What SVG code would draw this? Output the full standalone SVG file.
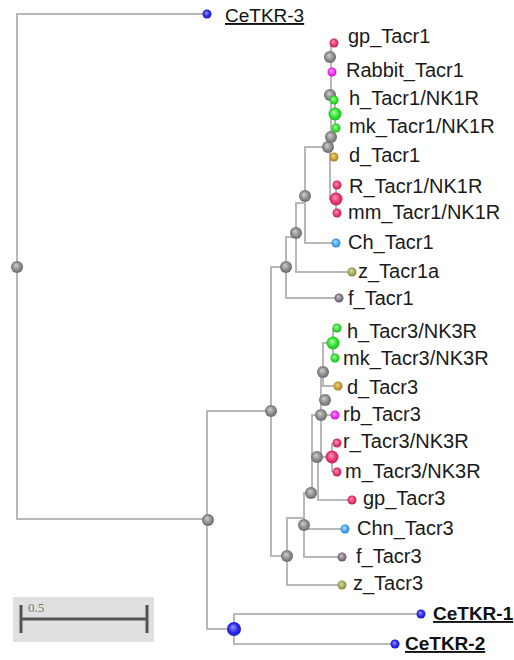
<svg xmlns="http://www.w3.org/2000/svg" width="514" height="660" viewBox="0 0 514 660">
<defs>
<radialGradient id="gGray" cx="0.5" cy="0.5" r="0.55" fx="0.4" fy="0.35"><stop offset="0" stop-color="#d0d0d0"/><stop offset="0.6" stop-color="#8c8c8c"/><stop offset="1" stop-color="#606060"/></radialGradient>
<radialGradient id="gBlue" cx="0.5" cy="0.5" r="0.55" fx="0.4" fy="0.35"><stop offset="0" stop-color="#9a9aff"/><stop offset="0.6" stop-color="#2a2af0"/><stop offset="1" stop-color="#1818b0"/></radialGradient>
<radialGradient id="gPink" cx="0.5" cy="0.5" r="0.55" fx="0.4" fy="0.35"><stop offset="0" stop-color="#ff9ac0"/><stop offset="0.6" stop-color="#e8386e"/><stop offset="1" stop-color="#b81e50"/></radialGradient>
<radialGradient id="gMag" cx="0.5" cy="0.5" r="0.55" fx="0.4" fy="0.35"><stop offset="0" stop-color="#ffa0ff"/><stop offset="0.6" stop-color="#f030f0"/><stop offset="1" stop-color="#c010c0"/></radialGradient>
<radialGradient id="gGreen" cx="0.5" cy="0.5" r="0.55" fx="0.4" fy="0.35"><stop offset="0" stop-color="#b0ffb0"/><stop offset="0.6" stop-color="#30e030"/><stop offset="1" stop-color="#18b018"/></radialGradient>
<radialGradient id="gGold" cx="0.5" cy="0.5" r="0.55" fx="0.4" fy="0.35"><stop offset="0" stop-color="#f0dc90"/><stop offset="0.6" stop-color="#c8a030"/><stop offset="1" stop-color="#9a7818"/></radialGradient>
<radialGradient id="gLBlue" cx="0.5" cy="0.5" r="0.55" fx="0.4" fy="0.35"><stop offset="0" stop-color="#b8e0ff"/><stop offset="0.6" stop-color="#4aa4f4"/><stop offset="1" stop-color="#2a7ccc"/></radialGradient>
<radialGradient id="gOlive" cx="0.5" cy="0.5" r="0.55" fx="0.4" fy="0.35"><stop offset="0" stop-color="#e0e0a8"/><stop offset="0.6" stop-color="#a8a858"/><stop offset="1" stop-color="#7c7c38"/></radialGradient>
<radialGradient id="gPurp" cx="0.5" cy="0.5" r="0.55" fx="0.4" fy="0.35"><stop offset="0" stop-color="#d4c8d4"/><stop offset="0.6" stop-color="#8a7a8a"/><stop offset="1" stop-color="#5e505e"/></radialGradient>
</defs>
<style>
.ln{fill:none;stroke:#b8b8b8;stroke-width:2}
.lbl{font-family:"Liberation Sans",Arial,sans-serif;font-size:20px;fill:#1a1a1a}
.ce{font-family:"Liberation Sans",Arial,sans-serif;font-size:19px;fill:#111;text-decoration:underline}
.ceb{font-weight:bold}
.gray{fill:url(#gGray)}
.blue{fill:url(#gBlue)}
.pink{fill:url(#gPink)}
.mag{fill:url(#gMag)}
.green{fill:url(#gGreen)}
.gold{fill:url(#gGold)}
.lblue{fill:url(#gLBlue)}
.olive{fill:url(#gOlive)}
.purp{fill:url(#gPurp)}
</style>
<rect width="514" height="660" fill="#ffffff"/>
<g id="connectors">
<path class="ln" d="M207 14H17V519H207"/>
<path class="ln" d="M271 411H207V629H234"/>
<path class="ln" d="M421 614H234V644H395"/>
<path class="ln" d="M286 267H271V556H287"/>
<path class="ln" d="M296 237H286V298H339"/>
<path class="ln" d="M305 203H296V272H352"/>
<path class="ln" d="M328 147H305V243H336"/>
<path class="ln" d="M334 43H331V147"/>
<path class="ln" d="M331 72H332"/>
<path class="ln" d="M335 100V128"/>
<path class="ln" d="M330 147V199H336"/>
<path class="ln" d="M330 157H334"/>
<path class="ln" d="M336 185V213"/>
<path class="ln" d="M304 518H287V585H342"/>
<path class="ln" d="M312 493H304V557H342"/>
<path class="ln" d="M304 529H345"/>
<path class="ln" d="M312 493V415H321"/>
<path class="ln" d="M318 457V500H352"/>
<path class="ln" d="M321 372V457H332"/>
<path class="ln" d="M333 343H323V386H338"/>
<path class="ln" d="M321 415H335"/>
<path class="ln" d="M333 328V358"/>
<path class="ln" d="M332 443V472"/>
</g>
<g id="scalebar">
<rect x="13" y="597" width="141" height="45" fill="#e0e0e0"/>
<path d="M21 619H147M21 605V633M147 605V633" stroke="#555" stroke-width="3" fill="none"/>
<text x="28" y="612" font-family="Liberation Serif,serif" font-size="13" fill="#777">0.5</text>
</g>
<g id="inner">
<circle id="n_root" class="gray" cx="17" cy="267" r="6"/>
<circle id="n_208" class="gray" cx="208" cy="520" r="6"/>
<circle id="n_271" class="gray" cx="271" cy="411" r="6"/>
<circle id="n_286" class="gray" cx="286" cy="267" r="6"/>
<circle id="n_296" class="gray" cx="296" cy="233" r="6"/>
<circle id="n_305" class="gray" cx="305" cy="196" r="6"/>
<circle id="n_328" class="gray" cx="328" cy="147" r="6"/>
<circle id="n_331" class="gray" cx="331" cy="137" r="6"/>
<circle id="n_330b" class="gray" cx="330" cy="95" r="6"/>
<circle id="n_330a" class="gray" cx="330" cy="57" r="6"/>
<circle id="n_g1" class="green" cx="335" cy="114" r="6.5"/>
<circle id="n_p1" class="pink" cx="336" cy="199" r="6.5"/>
<circle id="n_287" class="gray" cx="287" cy="556" r="6"/>
<circle id="n_304" class="gray" cx="304" cy="525" r="6"/>
<circle id="n_311" class="gray" cx="311" cy="493" r="6"/>
<circle id="n_317" class="gray" cx="317" cy="457" r="6"/>
<circle id="n_321" class="gray" cx="321" cy="415" r="6"/>
<circle id="n_325" class="gray" cx="325" cy="400" r="6"/>
<circle id="n_323" class="gray" cx="323" cy="372" r="6"/>
<circle id="n_g3" class="green" cx="333" cy="343" r="6.5"/>
<circle id="n_p3" class="pink" cx="332" cy="457" r="6.5"/>
<circle id="n_ce" class="blue" cx="234" cy="629" r="7"/>
</g>
<g id="leaf_CeTKR-3"><circle class="blue" cx="207" cy="14" r="4.5"/><text class="ce" x="225" y="22">CeTKR-3</text></g>
<g id="leaf_gp_Tacr1"><circle class="pink" cx="334" cy="43" r="4.5"/><text class="lbl" x="348" y="43">gp_Tacr1</text></g>
<g id="leaf_Rabbit_Tacr1"><circle class="mag" cx="332" cy="72" r="4.5"/><text class="lbl" x="346" y="77">Rabbit_Tacr1</text></g>
<g id="leaf_h_Tacr1"><circle class="green" cx="334" cy="100" r="4.5"/><text class="lbl" x="349" y="105">h_Tacr1/NK1R</text></g>
<g id="leaf_mk_Tacr1"><circle class="green" cx="336" cy="128" r="4.5"/><text class="lbl" x="349" y="133">mk_Tacr1/NK1R</text></g>
<g id="leaf_d_Tacr1"><circle class="gold" cx="334" cy="157" r="4.5"/><text class="lbl" x="349" y="162">d_Tacr1</text></g>
<g id="leaf_R_Tacr1"><circle class="pink" cx="337" cy="185" r="4.5"/><text class="lbl" x="349" y="193">R_Tacr1/NK1R</text></g>
<g id="leaf_mm_Tacr1"><circle class="pink" cx="337" cy="213" r="4.5"/><text class="lbl" x="348" y="219">mm_Tacr1/NK1R</text></g>
<g id="leaf_Ch_Tacr1"><circle class="lblue" cx="336" cy="243" r="4.5"/><text class="lbl" x="348" y="249">Ch_Tacr1</text></g>
<g id="leaf_z_Tacr1a"><circle class="olive" cx="352" cy="272" r="4.5"/><text class="lbl" x="358" y="278">z_Tacr1a</text></g>
<g id="leaf_f_Tacr1"><circle class="purp" cx="339" cy="298" r="4.5"/><text class="lbl" x="348" y="305">f_Tacr1</text></g>
<g id="leaf_h_Tacr3"><circle class="green" cx="337" cy="328" r="4.5"/><text class="lbl" x="347" y="338">h_Tacr3/NK3R</text></g>
<g id="leaf_mk_Tacr3"><circle class="green" cx="335" cy="358" r="4.5"/><text class="lbl" x="343" y="365">mk_Tacr3/NK3R</text></g>
<g id="leaf_d_Tacr3"><circle class="gold" cx="338" cy="386" r="4.5"/><text class="lbl" x="347" y="394">d_Tacr3</text></g>
<g id="leaf_rb_Tacr3"><circle class="mag" cx="335" cy="415" r="4.5"/><text class="lbl" x="343" y="421">rb_Tacr3</text></g>
<g id="leaf_r_Tacr3"><circle class="pink" cx="337" cy="443" r="4.5"/><text class="lbl" x="343" y="448">r_Tacr3/NK3R</text></g>
<g id="leaf_m_Tacr3"><circle class="pink" cx="337" cy="472" r="4.5"/><text class="lbl" x="345" y="478">m_Tacr3/NK3R</text></g>
<g id="leaf_gp_Tacr3"><circle class="pink" cx="352" cy="500" r="4.5"/><text class="lbl" x="363" y="505">gp_Tacr3</text></g>
<g id="leaf_Chn_Tacr3"><circle class="lblue" cx="345" cy="529" r="4.5"/><text class="lbl" x="357" y="535">Chn_Tacr3</text></g>
<g id="leaf_f_Tacr3"><circle class="purp" cx="342" cy="557" r="4.5"/><text class="lbl" x="356" y="563">f_Tacr3</text></g>
<g id="leaf_z_Tacr3"><circle class="olive" cx="342" cy="585" r="4.5"/><text class="lbl" x="353" y="590">z_Tacr3</text></g>
<g id="leaf_CeTKR-1"><circle class="blue" cx="421" cy="614" r="4.5"/><text class="ce ceb" x="433" y="620">CeTKR-1</text></g>
<g id="leaf_CeTKR-2"><circle class="blue" cx="395" cy="644" r="4.5"/><text class="ce ceb" x="405" y="650">CeTKR-2</text></g>
</svg>
